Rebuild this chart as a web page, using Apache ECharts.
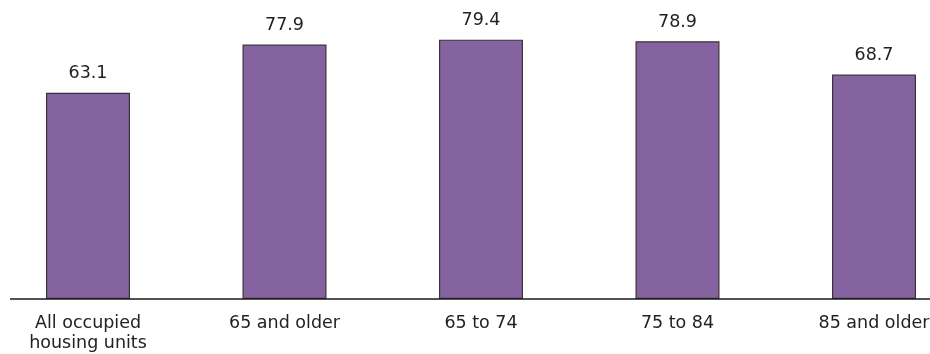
<!DOCTYPE html>
<html>
<head>
<meta charset="utf-8">
<script src="https://cdn.jsdelivr.net/npm/echarts@6/dist/echarts.min.js"></script>
<style>
  html, body { margin: 0; padding: 0; background: #ffffff; }
  #chart { width: 930px; height: 354px; }
</style>
</head>
<body>
<div id="chart"></div>
<script>
// Share of occupied housing units, by age group of householder
const categories = ['All occupied\nhousing units', '65 and older', '65 to 74', '75 to 84', '85 and older'];
const values = [63.1, 77.9, 79.4, 78.9, 68.7];

const chart = echarts.init(document.getElementById('chart'), null, { renderer: 'canvas' });

const textFont = 'DejaVu Sans';

chart.setOption({
  animation: false,
  backgroundColor: '#ffffff',
  grid: { left: -10.25, width: 982.5, top: 5, height: 294, containLabel: false, outerBoundsMode: 'none' },
  xAxis: {
    type: 'category',
    data: categories,
    axisLine: { show: false },
    axisTick: { show: false },
    axisLabel: {
      color: '#222222',
      fontFamily: textFont,
      fontSize: 17.5,
      lineHeight: 20,
      margin: 14,
      interval: 0
    }
  },
  yAxis: {
    type: 'value',
    min: 0,
    max: 90,
    show: false,
    splitLine: { show: false }
  },
  series: [{
    type: 'bar',
    data: values,
    barWidth: 84,
    itemStyle: {
      color: '#8563a0',
      borderColor: '#3a3338',
      borderWidth: 1.2
    },
    label: {
      show: true,
      position: 'top',
      distance: 10,
      color: '#222222',
      fontFamily: textFont,
      fontSize: 17.5,
      formatter: p => p.value.toFixed(1)
    }
  }],
  graphic: [{
    type: 'line',
    shape: { x1: 10, y1: 299, x2: 930, y2: 299 },
    style: { stroke: '#1a1a1a', lineWidth: 1.5 },
    z: 10
  }]
});
</script>
</body>
</html>
